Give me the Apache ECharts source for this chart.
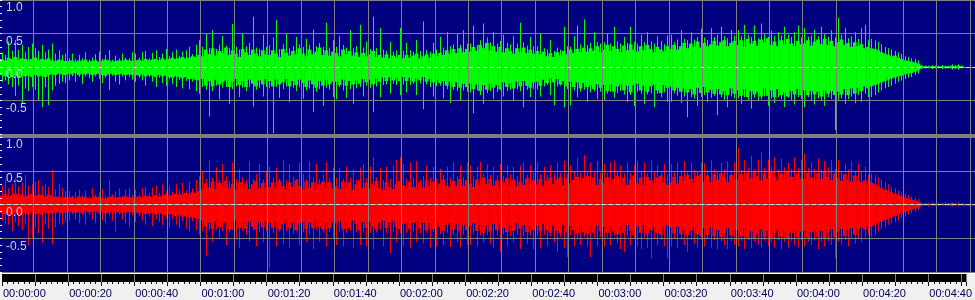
<!DOCTYPE html>
<html>
<head>
<meta charset="utf-8">
<script src="https://cdn.jsdelivr.net/npm/echarts@6/dist/echarts.min.js"></script>
<style>html,body{margin:0;padding:0;background:#f0f0f0;}#c{width:975px;height:300px;}</style>
</head>
<body>
<div id="c"></div>
<script>
// Time axis (seconds) and tick labels
const xTickLabels = ['00:00:00','00:00:20','00:00:40','00:01:00','00:01:20','00:01:40','00:02:00','00:02:20','00:02:40','00:03:00','00:03:20','00:03:40','00:04:00','00:04:20','00:04:40'];
const yTickLabels = ['1.0','0.5','0.0','-0.5'];

// Left channel (green): per-second dense core envelope and peak extremes
const gCoreHi = [
.12,.10,.14,.12,.15,.11,.13,.12,.10,.12,.14,.10,.12,.11,.13,.10,.09,.11,.10,.09,
.09,.10,.08,.10,.09,.11,.08,.09,.10,.08,.09,.11,.10,.08,.09,.10,.09,.11,.10,.09,
.10,.11,.09,.12,.10,.11,.12,.10,.13,.11,.12,.14,.12,.13,.15,.13,.14,.16,.15,.18,
.16,.26,.19,.28,.17,.24,.21,.29,.18,.25,.20,.15,.27,.22,.18,.26,.20,.16,.25,.19,
.18,.25,.20,.15,.27,.21,.17,.24,.19,.28,.20,.16,.26,.19,.23,.29,.18,.25,.17,.23,
.21,.16,.26,.19,.24,.17,.22,.15,.21,.16,.19,.24,.15,.18,.14,.19,.13,.17,.14,.18,
.13,.18,.14,.17,.20,.13,.16,.19,.14,.20,.16,.21,.18,.25,.20,.27,.21,.28,.22,.27,
.23,.30,.24,.33,.28,.36,.25,.31,.23,.30,.22,.28,.24,.20,.28,.22,.29,.21,.26,.20,
.24,.19,.23,.16,.21,.15,.22,.17,.24,.19,.26,.21,.27,.22,.29,.23,.28,.24,.31,.22,
.26,.33,.24,.31,.27,.22,.32,.25,.34,.26,.23,.31,.25,.33,.27,.22,.30,.26,.23,.31,
.27,.33,.26,.31,.36,.28,.35,.30,.38,.29,.36,.31,.34,.39,.32,.37,.40,.31,.36,.39,
.33,.40,.31,.42,.35,.39,.32,.41,.36,.43,.33,.38,.31,.40,.34,.42,.35,.31,.39,.34,
.35,.40,.32,.38,.41,.34,.42,.33,.39,.31,.37,.41,.33,.36,.30,.37,.31,.34,.28,.30,
.28,.27,.25,.22,.20,.18,.16,.17,.14,.12,.10,.09,.08,.07,.05,.02,.01,.01,.01,.01,
.01,.01,.01,.01,.02,.01,.02,.01,0,0,0
];
const gCoreLo = [
-.12,-.14,-.11,-.15,-.13,-.16,-.12,-.14,-.13,-.15,-.12,-.14,-.13,-.15,-.12,-.11,-.12,-.10,-.11,-.12,
-.10,-.11,-.09,-.12,-.10,-.11,-.10,-.12,-.11,-.10,-.12,-.13,-.11,-.10,-.12,-.11,-.10,-.12,-.11,-.12,
-.12,-.13,-.11,-.14,-.12,-.13,-.15,-.12,-.14,-.13,-.15,-.16,-.14,-.15,-.17,-.15,-.18,-.17,-.19,-.20,
-.18,-.28,-.21,-.29,-.19,-.26,-.23,-.20,-.30,-.22,-.18,-.27,-.21,-.30,-.19,-.25,-.29,-.20,-.26,-.18,
-.21,-.29,-.19,-.26,-.23,-.18,-.29,-.21,-.27,-.19,-.24,-.30,-.20,-.26,-.31,-.21,-.28,-.19,-.26,-.22,
-.22,-.27,-.19,-.28,-.21,-.26,-.20,-.25,-.18,-.23,-.19,-.26,-.17,-.22,-.16,-.21,-.15,-.20,-.16,-.21,
-.15,-.21,-.16,-.22,-.17,-.20,-.15,-.22,-.18,-.23,-.19,-.24,-.21,-.28,-.22,-.30,-.23,-.31,-.25,-.30,
-.25,-.33,-.26,-.36,-.27,-.34,-.25,-.31,-.27,-.33,-.23,-.30,-.24,-.32,-.22,-.29,-.21,-.28,-.31,-.23,
-.22,-.28,-.19,-.24,-.17,-.23,-.18,-.26,-.21,-.29,-.22,-.30,-.23,-.32,-.24,-.30,-.27,-.33,-.26,-.31,
-.27,-.36,-.26,-.37,-.29,-.25,-.35,-.28,-.38,-.27,-.25,-.35,-.28,-.37,-.29,-.26,-.35,-.39,-.27,-.31,
-.29,-.35,-.31,-.37,-.32,-.38,-.33,-.41,-.31,-.39,-.30,-.38,-.34,-.40,-.33,-.41,-.36,-.42,-.32,-.40,
-.35,-.43,-.33,-.45,-.36,-.41,-.37,-.44,-.32,-.43,-.35,-.45,-.33,-.42,-.38,-.44,-.36,-.41,-.33,-.42,
-.35,-.42,-.36,-.41,-.37,-.44,-.35,-.40,-.36,-.42,-.37,-.41,-.33,-.42,-.32,-.40,-.31,-.36,-.29,-.32,
-.29,-.27,-.25,-.23,-.21,-.19,-.17,-.16,-.14,-.13,-.11,-.10,-.09,-.07,-.05,-.02,-.01,-.01,-.01,-.01,
-.01,-.01,-.01,-.01,-.02,-.01,-.02,-.01,0,0,0
];
const gPeakHi = [
.22,.18,.38,.24,.40,.26,.33,.22,.30,.35,.28,.24,.33,.22,.26,.35,.20,.25,.18,.20,
.13,.20,.12,.18,.13,.22,.11,.14,.19,.23,.12,.18,.25,.11,.17,.13,.20,.14,.13,.22,
.20,.14,.22,.24,.13,.21,.25,.15,.20,.27,.16,.22,.26,.17,.23,.25,.30,.19,.33,.40,
.30,.50,.28,.55,.27,.33,.46,.32,.28,.64,.30,.26,.50,.31,.36,.75,.29,.27,.48,.30,
.32,.44,.70,.27,.34,.50,.28,.31,.45,.34,.30,.42,.33,.56,.31,.36,.30,.66,.29,.40,
.30,.46,.33,.29,.55,.28,.31,.63,.29,.38,.27,.75,.28,.58,.26,.24,.38,.23,.25,.58,
.24,.36,.25,.23,.40,.24,.68,.25,.23,.36,.26,.45,.29,.52,.31,.34,.50,.33,.55,.35,
.35,.62,.33,.40,.65,.44,.37,.52,.35,.39,.48,.36,.34,.46,.35,.66,.37,.32,.45,.31,
.31,.50,.28,.26,.40,.24,.29,.26,.60,.31,.30,.46,.62,.34,.71,.33,.36,.52,.37,.35,
.37,.50,.35,.60,.38,.35,.45,.36,.60,.38,.35,.48,.37,.52,.38,.35,.46,.39,.34,.47,
.48,.37,.41,.55,.42,.40,.52,.41,.45,.57,.44,.40,.58,.45,.48,.60,.46,.43,.55,.47,
.55,.46,.63,.48,.45,.62,.43,.65,.49,.45,.54,.46,.52,.47,.60,.48,.45,.52,.62,.44,
.58,.45,.47,.56,.46,.60,.49,.45,.55,.44,.73,.48,.58,.43,.46,.52,.42,.58,.63,.40,
.42,.40,.38,.34,.30,.28,.26,.24,.22,.20,.16,.15,.13,.12,.10,.03,.02,.02,.03,.02,
.02,.03,.02,.02,.04,.03,.04,.02,0,0,0
];
const gPeakLo = [
-.22,-.20,-.26,-.30,-.43,-.28,-.54,-.32,-.36,-.30,-.34,-.50,-.60,-.30,-.57,-.35,-.28,-.25,-.22,-.24,
-.20,-.14,-.22,-.15,-.25,-.14,-.17,-.22,-.14,-.18,-.24,-.16,-.34,-.13,-.22,-.26,-.14,-.20,-.15,-.19,
-.22,-.16,-.20,-.28,-.15,-.22,-.30,-.16,-.24,-.28,-.18,-.25,-.30,-.19,-.32,-.21,-.33,-.22,-.36,-.40,
-.30,-.34,-.74,-.36,-.28,-.48,-.31,-.30,-.55,-.33,-.29,-.45,-.31,-.36,-.30,-.59,-.34,-.31,-.44,-.30,
-.32,-.99,-.30,-.46,-.33,-.29,-.52,-.31,-.36,-.30,-.47,-.35,-.32,-.67,-.37,-.33,-.58,-.31,-.34,-.45,
-.48,-.30,-.35,-.46,-.33,-.55,-.32,-.30,-.44,-.28,-.31,-.67,-.29,-.45,-.27,-.26,-.40,-.25,-.27,-.42,
-.26,-.38,-.27,-.25,-.42,-.25,-.63,-.26,-.30,-.44,-.29,-.28,-.47,-.33,-.54,-.34,-.36,-.50,-.35,-.37,
-.38,-.69,-.35,-.42,-.55,-.39,-.36,-.48,-.37,-.35,-.44,-.36,-.34,-.50,-.33,-.36,-.60,-.34,-.45,-.33,
-.34,-.44,-.29,-.27,-.42,-.57,-.29,-.28,-.60,-.33,-.57,-.35,-.45,-.37,-.34,-.52,-.38,-.36,-.48,-.37,
-.50,-.40,-.37,-.46,-.39,-.36,-.41,-.52,-.42,-.58,-.37,-.40,-.55,-.41,-.39,-.60,-.40,-.45,-.38,-.52,
-.52,-.39,-.43,-.54,-.44,-.75,-.45,-.47,-.58,-.45,-.42,-.52,-.46,-.43,-.72,-.45,-.49,-.60,-.44,-.47,
-.47,-.55,-.45,-.51,-.62,-.46,-.50,-.48,-.44,-.58,-.47,-.54,-.45,-.48,-.60,-.46,-.49,-.56,-.45,-.48,
-.60,-.45,-.49,-.56,-.47,-.50,-.58,-.45,-.48,-.94,-.49,-.47,-.55,-.48,-.44,-.54,-.42,-.52,-.40,-.45,
-.45,-.42,-.38,-.35,-.32,-.30,-.28,-.25,-.22,-.20,-.18,-.16,-.15,-.12,-.10,-.03,-.02,-.02,-.03,-.02,
-.02,-.03,-.02,-.02,-.04,-.03,-.04,-.02,0,0,0
];

// Right channel (red)
const rCoreHi = [
.13,.15,.12,.14,.16,.13,.15,.12,.14,.16,.13,.15,.14,.12,.15,.13,.11,.12,.10,.11,
.10,.11,.09,.12,.10,.11,.09,.10,.12,.11,.10,.09,.11,.12,.10,.11,.10,.12,.11,.10,
.11,.12,.10,.13,.12,.11,.14,.12,.13,.15,.13,.14,.16,.15,.14,.17,.16,.18,.17,.20,
.22,.31,.25,.34,.23,.32,.26,.35,.24,.30,.22,.33,.26,.31,.23,.30,.35,.24,.32,.25,
.26,.33,.24,.35,.27,.22,.33,.26,.36,.27,.23,.34,.25,.33,.22,.30,.34,.25,.33,.24,
.27,.23,.34,.25,.33,.22,.30,.36,.25,.33,.24,.30,.35,.25,.22,.33,.26,.23,.31,.35,
.28,.24,.34,.26,.23,.33,.25,.36,.27,.34,.24,.31,.37,.28,.25,.35,.27,.38,.28,.36,
.31,.26,.37,.29,.40,.30,.38,.28,.36,.26,.33,.39,.29,.37,.27,.34,.29,.39,.30,.36,
.30,.38,.28,.36,.40,.30,.37,.41,.29,.39,.31,.36,.41,.30,.39,.42,.31,.40,.29,.38,
.32,.40,.30,.38,.42,.31,.40,.29,.37,.43,.31,.40,.29,.41,.36,.31,.40,.43,.33,.29,
.33,.41,.31,.42,.35,.44,.38,.32,.42,.45,.34,.43,.33,.45,.37,.46,.40,.33,.44,.37,
.37,.45,.35,.47,.39,.48,.42,.36,.46,.38,.49,.41,.36,.46,.38,.48,.41,.36,.46,.39,
.38,.47,.40,.36,.46,.38,.48,.41,.36,.46,.39,.35,.45,.37,.34,.43,.36,.33,.36,.30,
.32,.30,.27,.24,.22,.20,.18,.16,.14,.12,.10,.09,.07,.06,.04,.02,.01,.01,.01,.01,
.01,.01,.01,.01,.02,.01,.01,.01,0,0,0
];
const rCoreLo = [
-.12,-.14,-.13,-.15,-.12,-.14,-.16,-.13,-.15,-.12,-.14,-.13,-.15,-.12,-.14,-.13,-.12,-.11,-.13,-.12,
-.11,-.10,-.12,-.11,-.13,-.10,-.12,-.11,-.10,-.12,-.11,-.13,-.12,-.10,-.12,-.11,-.13,-.12,-.11,-.12,
-.12,-.13,-.11,-.14,-.13,-.12,-.15,-.13,-.14,-.16,-.14,-.15,-.17,-.16,-.18,-.17,-.19,-.18,-.20,-.22,
-.24,-.33,-.27,-.36,-.25,-.34,-.28,-.26,-.37,-.28,-.24,-.35,-.27,-.36,-.25,-.33,-.37,-.26,-.34,-.25,
-.27,-.35,-.26,-.37,-.29,-.24,-.35,-.27,-.38,-.28,-.25,-.36,-.27,-.35,-.24,-.33,-.37,-.27,-.35,-.26,
-.28,-.25,-.37,-.27,-.35,-.24,-.29,-.38,-.26,-.35,-.25,-.33,-.37,-.26,-.24,-.35,-.27,-.25,-.34,-.37,
-.29,-.26,-.36,-.27,-.25,-.35,-.27,-.38,-.28,-.36,-.26,-.33,-.39,-.30,-.27,-.37,-.29,-.40,-.30,-.38,
-.32,-.28,-.39,-.30,-.42,-.31,-.40,-.29,-.38,-.28,-.35,-.41,-.30,-.39,-.28,-.36,-.31,-.41,-.32,-.38,
-.31,-.40,-.29,-.38,-.42,-.31,-.39,-.43,-.30,-.41,-.32,-.38,-.43,-.31,-.41,-.44,-.33,-.42,-.31,-.40,
-.33,-.42,-.31,-.40,-.44,-.32,-.42,-.30,-.39,-.45,-.32,-.42,-.30,-.43,-.38,-.33,-.42,-.45,-.34,-.31,
-.34,-.43,-.33,-.44,-.36,-.46,-.39,-.34,-.44,-.47,-.35,-.45,-.34,-.47,-.38,-.48,-.42,-.35,-.46,-.38,
-.38,-.47,-.36,-.49,-.40,-.50,-.43,-.37,-.48,-.39,-.51,-.42,-.37,-.48,-.39,-.50,-.42,-.37,-.48,-.40,
-.39,-.49,-.41,-.37,-.48,-.39,-.50,-.42,-.37,-.48,-.40,-.36,-.47,-.38,-.35,-.45,-.37,-.34,-.37,-.32,
-.33,-.30,-.28,-.25,-.23,-.21,-.19,-.17,-.15,-.13,-.11,-.10,-.08,-.06,-.05,-.02,-.01,-.01,-.01,-.01,
-.01,-.01,-.01,-.01,-.02,-.01,-.01,-.01,0,0,0
];
const rPeakHi = [
.28,.37,.24,.30,.40,.26,.32,.44,.28,.30,.34,.36,.28,.30,.26,.51,.22,.30,.24,.20,
.20,.13,.18,.22,.14,.20,.12,.24,.14,.18,.23,.13,.36,.15,.19,.24,.13,.22,.25,.14,
.22,.15,.24,.26,.16,.25,.28,.17,.30,.20,.28,.19,.30,.22,.32,.21,.34,.24,.36,.42,
.50,.38,.66,.40,.55,.36,.60,.42,.35,.62,.38,.52,.40,.36,.64,.38,.45,.60,.37,.50,
.56,.40,.54,.38,.66,.36,.60,.41,.38,.62,.45,.37,.64,.40,.60,.37,.44,.62,.39,.55,
.40,.54,.38,.56,.40,.52,.37,.55,.60,.39,.56,.70,.40,.54,.36,.56,.38,.58,.66,.70,
.60,.38,.62,.40,.64,.37,.42,.58,.40,.56,.38,.53,.44,.56,.40,.62,.42,.58,.41,.62,
.58,.42,.56,.63,.46,.60,.44,.56,.43,.60,.42,.58,.45,.56,.42,.58,.62,.44,.58,.47,
.62,.45,.56,.44,.58,.46,.62,.47,.65,.46,.58,.48,.69,.47,.73,.49,.62,.48,.64,.47,
.60,.47,.62,.65,.48,.58,.46,.62,.47,.58,.65,.48,.62,.46,.65,.48,.58,.50,.60,.45,
.60,.48,.62,.50,.64,.49,.62,.51,.48,.62,.61,.50,.66,.52,.49,.62,.52,.64,.50,.62,
.84,.52,.66,.54,.72,.52,.66,.78,.54,.66,.56,.70,.52,.68,.55,.62,.53,.70,.54,.66,
.75,.54,.62,.53,.68,.52,.64,.55,.66,.53,.66,.50,.60,.52,.64,.50,.60,.48,.56,.44,
.46,.44,.40,.36,.33,.30,.26,.24,.20,.18,.16,.14,.12,.10,.08,.03,.02,.02,.03,.02,
.02,.02,.03,.02,.03,.02,.03,.02,0,0,0
];
const rPeakLo = [
-.24,-.28,-.30,-.40,-.26,-.32,-.38,-.30,-.61,-.50,-.34,-.42,-.57,-.30,-.36,-.59,-.34,-.28,-.30,-.26,
-.24,-.14,-.22,-.28,-.15,-.30,-.16,-.22,-.28,-.15,-.23,-.27,-.16,-.24,-.40,-.15,-.22,-.28,-.34,-.16,
-.26,-.17,-.24,-.30,-.18,-.32,-.22,-.26,-.30,-.20,-.34,-.22,-.30,-.35,-.24,-.36,-.40,-.25,-.38,-.45,
-.40,-.76,-.38,-.55,-.37,-.50,-.40,-.60,-.42,-.38,-.52,-.64,-.39,-.45,-.55,-.38,-.62,-.40,-.56,-.39,
-.95,-.42,-.62,-.40,-.58,-.39,-.64,-.43,-.40,-.60,-.41,-.56,-.44,-.66,-.38,-.55,-.42,-.62,-.40,-.50,
-.60,-.40,-.62,-.42,-.39,-.64,-.41,-.60,-.40,-.62,-.42,-.66,-.41,-.38,-.62,-.42,-.72,-.40,-.56,-.43,
-.62,-.42,-.64,-.40,-.56,-.43,-.58,-.42,-.64,-.41,-.62,-.44,-.60,-.42,-.63,-.45,-.56,-.63,-.44,-.60,
-.60,-.44,-.62,-.46,-.56,-.45,-.58,-.64,-.46,-.70,-.44,-.62,-.47,-.56,-.45,-.66,-.47,-.58,-.46,-.66,
-.46,-.64,-.45,-.62,-.47,-.56,-.70,-.48,-.64,-.78,-.46,-.62,-.49,-.60,-.48,-.62,-.78,-.49,-.62,-.48,
-.62,-.48,-.60,-.47,-.58,-.66,-.70,-.48,-.60,-.50,-.62,-.66,-.48,-.64,-.79,-.50,-.60,-.52,-.62,-.79,
-.62,-.50,-.64,-.52,-.60,-.70,-.53,-.58,-.64,-.52,-.62,-.51,-.64,-.53,-.66,-.55,-.60,-.66,-.54,-.60,
-.62,-.54,-.66,-.53,-.64,-.55,-.60,-.64,-.54,-.62,-.56,-.64,-.53,-.66,-.55,-.64,-.54,-.60,-.64,-.53,
-.62,-.55,-.60,-.53,-.66,-.55,-.62,-.54,-.60,-.79,-.55,-.60,-.52,-.62,-.50,-.58,-.50,-.56,-.48,-.45,
-.48,-.45,-.40,-.37,-.34,-.30,-.28,-.26,-.24,-.20,-.18,-.15,-.13,-.11,-.08,-.03,-.02,-.03,-.02,-.02,
-.02,-.02,-.03,-.02,-.03,-.02,-.03,-.02,0,0,0
];

const arrs = {gCoreHi,gCoreLo,gPeakHi,gPeakLo,rCoreHi,rCoreLo,rPeakHi,rPeakLo};
for (const k in arrs) { if (arrs[k].length !== 291) throw new Error(k + ' length ' + arrs[k].length); }

const X_MAX = 291.5;

function build(coreHi, coreLo, peakHi, peakLo) {
  return coreHi.map((v, i) => [i, coreLo[i], v, peakLo[i], peakHi[i]]);
}

function makeRender(color) {
  return function (params, api) {
    const t = api.value(0);
    const a = api.coord([t, api.value(2)]);
    const b = api.coord([t + 1, api.value(1)]);
    const ph = api.coord([t + 0.5, api.value(4)]);
    const pl = api.coord([t + 0.5, api.value(3)]);
    const xm = Math.round(ph[0]) + 0.5;
    const h = Math.max(1, b[1] - a[1]);
    return {
      type: 'group',
      children: [
        { type: 'rect', shape: { x: a[0], y: a[1], width: b[0] - a[0] + 0.4, height: h }, style: { fill: color } },
        { type: 'line', shape: { x1: xm, y1: ph[1], x2: xm, y2: pl[1] }, style: { stroke: color, lineWidth: 1 } }
      ]
    };
  };
}

const chart = echarts.init(document.getElementById('c'), null, { renderer: 'canvas' });

const gridLine = { color: '#808080', width: 1 };

const xAxes = [0, 1, 2].map(i => ({
  type: 'value', gridIndex: i, min: 0, max: X_MAX, interval: 10, z: 5,
  axisLine: i < 2
    ? { show: true, onZero: true, lineStyle: { color: '#d4d4d4', type: [4, 3], width: 1 } }
    : { show: false },
  axisTick: i < 2 ? { show: false } : { show: true, length: 4, lineStyle: { color: '#101030' } },
  minorTick: i < 2 ? { show: false } : { show: true, splitNumber: 6, length: 2, lineStyle: { color: '#101030' } },
  axisLabel: i < 2 ? { show: false } : {
    show: true, margin: 6, align: 'left', padding: [0, 0, 0, 1],
    color: '#000058', fontFamily: 'Liberation Sans', fontSize: 11,
    showMaxLabel: false,
    formatter: v => (v % 20 === 0 && xTickLabels[v / 20]) ? xTickLabels[v / 20] : ''
  },
  splitLine: { show: true, showMinLine: false, lineStyle: gridLine }
}));

const yAxes = [0, 1].map(i => ({
  type: 'value', gridIndex: i, min: -1, max: 1, interval: 0.5, z: 5,
  axisLine: { show: false },
  axisTick: { show: true, inside: true, length: 2, lineStyle: { color: '#ffffff' } },
  minorTick: { show: true, splitNumber: 5, length: 2, lineStyle: { color: '#ffffff' } },
  axisLabel: {
    show: true, inside: true, margin: 6, showMinLabel: false, verticalAlign: 'top',
    padding: [2, 0, 0, 0],
    color: '#d0d0d8', fontFamily: 'Liberation Sans', fontSize: 12,
    formatter: v => yTickLabels[Math.round((1 - v) / 0.5)] || ''
  },
  splitLine: { show: true, lineStyle: gridLine }
}));
yAxes.push({ type: 'value', gridIndex: 2, min: 0, max: 1, show: false });

chart.setOption({
  backgroundColor: '#f0f0f0',
  animation: false,
  grid: [
    { left: 0, right: 0, top: 0, height: 134, show: true, backgroundColor: '#000080', borderWidth: 0 },
    { left: 0, right: 0, top: 137, height: 135, show: true, backgroundColor: '#000080', borderWidth: 0 },
    { left: 0, right: 0, top: 274, height: 8, show: true, backgroundColor: '#000000', borderWidth: 0 }
  ],
  xAxis: xAxes,
  yAxis: yAxes,
  graphic: [
    { type: 'rect', silent: true, shape: { x: 0, y: 134, width: 975, height: 3 }, style: { fill: '#808080' } },
    { type: 'rect', silent: true, shape: { x: 0, y: 272, width: 975, height: 2 }, style: { fill: '#ffffff' } }
  ],
  series: [
    {
      type: 'custom', name: 'Left', xAxisIndex: 0, yAxisIndex: 0, z: 2, clip: true,
      encode: { x: 0, y: [1, 2] },
      data: build(gCoreHi, gCoreLo, gPeakHi, gPeakLo),
      renderItem: makeRender('#00ff00')
    },
    {
      type: 'custom', name: 'Right', xAxisIndex: 1, yAxisIndex: 1, z: 2, clip: true,
      encode: { x: 0, y: [1, 2] },
      data: build(rCoreHi, rCoreLo, rPeakHi, rPeakLo),
      renderItem: makeRender('#ff0000')
    }
  ]
});
</script>
</body>
</html>
